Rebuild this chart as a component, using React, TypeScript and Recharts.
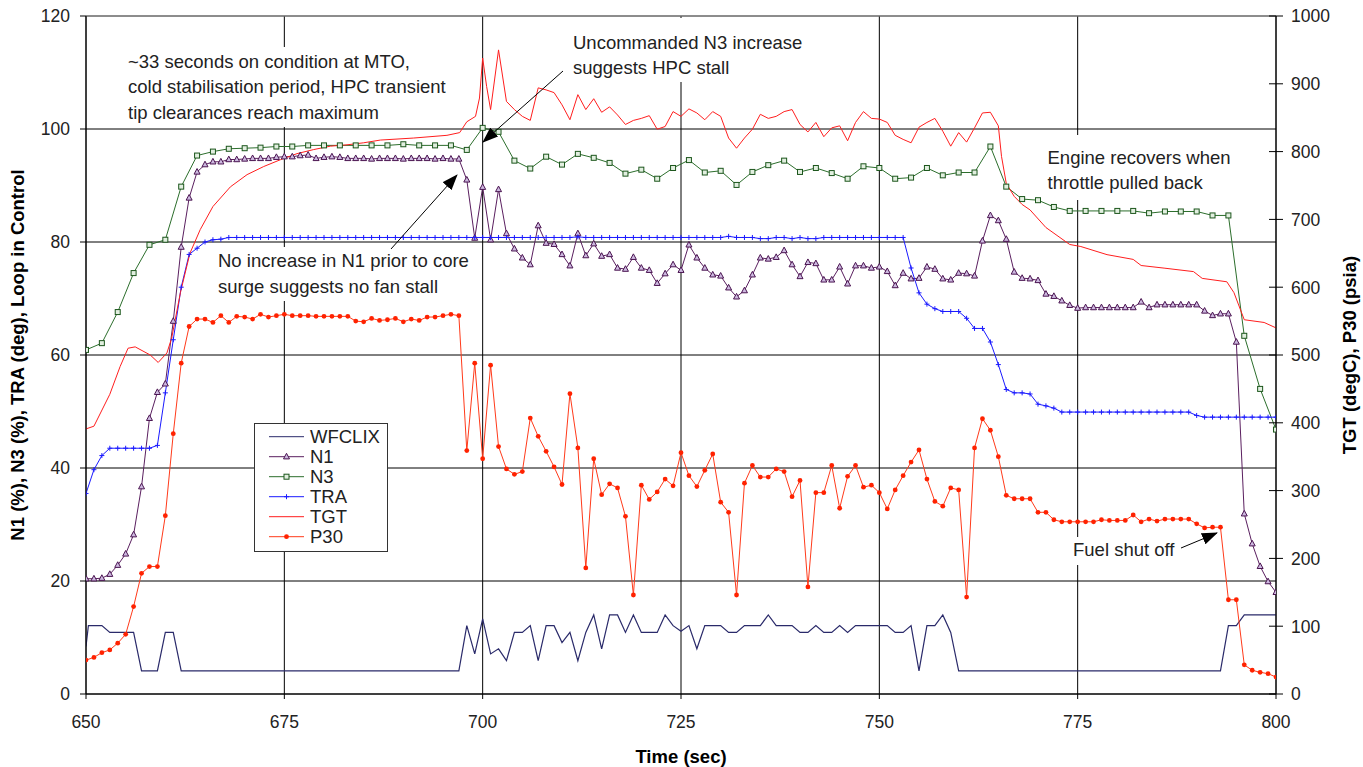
import React from 'react';
import { LineChart, Line, XAxis, YAxis, CartesianGrid, Legend, ReferenceLine } from 'recharts';

const FONT = '"Liberation Sans", Arial, Helvetica, sans-serif';

// ---- axes ----
const timeTicks = [650, 675, 700, 725, 750, 775, 800];
const leftTicks = [0, 20, 40, 60, 80, 100, 120];
const rightTicks = [0, 100, 200, 300, 400, 500, 600, 700, 800, 900, 1000];

// ---- 1-second series (650 .. 800 s) ----
const n1Values = [
  20.4, 20.4, 20.5, 21.2, 22.8, 24.8, 28.2, 36.7, 48.8, 53.4,
  54.9, 66.0, 79.1, 87.8, 92.4, 93.7, 94.2, 94.2, 94.6, 94.6,
  94.7, 94.8, 94.8, 94.8, 95.0, 95.1, 95.1, 95.3, 95.4, 94.8,
  95.0, 95.1, 95.0, 94.8, 94.8, 94.8, 94.7, 94.8, 94.8, 94.8,
  94.7, 94.8, 94.8, 94.8, 94.7, 94.8, 94.7, 94.7, 91.0, 80.7,
  89.7, 80.4, 89.3, 81.5, 78.8, 77.2, 76.0, 82.9, 79.8, 79.6,
  77.8, 75.8, 81.5, 77.6, 79.7, 77.5, 77.8, 75.4, 75.2, 77.3,
  75.4, 75.0, 72.7, 74.4, 76.0, 75.0, 79.5, 77.2, 75.4, 74.2,
  74.0, 71.9, 70.3, 71.4, 74.2, 77.2, 77.0, 77.3, 78.5, 76.0,
  73.9, 76.4, 76.2, 73.3, 73.3, 75.6, 72.6, 75.8, 75.8, 75.4,
  75.6, 74.8, 72.3, 74.5, 73.5, 73.6, 75.6, 75.2, 73.5, 73.3,
  74.5, 74.4, 74.0, 80.2, 84.7, 83.8, 80.5, 74.7, 73.6, 73.5,
  73.2, 70.8, 70.4, 69.6, 68.8, 68.3, 68.4, 68.4, 68.4, 68.4,
  68.4, 68.4, 68.4, 69.4, 68.4, 68.9, 68.9, 68.9, 68.9, 68.9,
  68.9, 67.8, 67.0, 67.3, 67.3, 62.3, 31.9, 26.6, 22.6, 19.9,
  18.0,
];

const traValues = [
  35.5, 39.7, 42.2, 43.5, 43.5, 43.5, 43.5, 43.5, 43.5, 44.0,
  53.3, 62.7, 72.0, 77.8, 78.9, 80.0, 80.4, 80.5, 80.8, 80.8,
  80.8, 80.8, 80.8, 80.8, 80.8, 80.8, 80.8, 80.8, 80.8, 80.8,
  80.8, 80.8, 80.8, 80.8, 80.8, 80.8, 80.8, 80.8, 80.8, 80.8,
  80.8, 80.8, 80.8, 80.8, 80.8, 80.8, 80.8, 80.8, 80.8, 80.8,
  80.8, 80.8, 80.8, 80.8, 80.8, 80.8, 80.8, 80.8, 80.8, 80.8,
  80.8, 80.8, 80.9, 80.8, 80.8, 80.8, 80.8, 80.8, 80.8, 80.8,
  80.8, 80.8, 80.8, 80.8, 80.8, 80.8, 80.8, 80.8, 80.8, 80.8,
  80.8, 81.0, 80.8, 80.8, 80.8, 80.6, 80.6, 80.8, 80.8, 80.6,
  80.8, 80.6, 80.6, 80.8, 80.8, 80.8, 80.8, 80.8, 80.8, 80.8,
  80.8, 80.8, 80.8, 80.8, 75.4, 71.0, 69.0, 68.2, 67.7, 67.7,
  67.7, 66.5, 64.7, 64.7, 62.3, 58.3, 53.9, 53.3, 53.3, 53.1,
  51.3, 51.0, 50.6, 49.9, 49.9, 49.9, 49.9, 49.9, 49.9, 49.9,
  49.9, 49.9, 49.9, 49.9, 49.9, 49.9, 49.9, 49.9, 49.9, 49.9,
  49.3, 49.0, 49.0, 49.0, 49.0, 49.0, 49.0, 49.0, 49.0, 49.0,
  49.0,
];

// P30 in psia (right axis)
const p30Values = [
  50, 54, 61, 65, 75, 88, 129, 178, 188, 188,
  263, 384, 488, 542, 553, 553, 548, 558, 548, 557,
  556, 553, 560, 556, 558, 560, 558, 558, 558, 557,
  557, 557, 557, 557, 550, 549, 554, 551, 552, 554,
  549, 553, 551, 556, 556, 558, 560, 558, 359, 488,
  347, 485, 365, 332, 324, 328, 407, 380, 358, 335,
  309, 443, 363, 186, 347, 294, 310, 304, 262, 146,
  308, 287, 298, 317, 307, 356, 322, 306, 330, 354,
  283, 268, 146, 311, 337, 320, 320, 332, 328, 291,
  315, 158, 297, 297, 337, 274, 321, 337, 305, 308,
  297, 273, 301, 322, 342, 360, 317, 284, 277, 304,
  301, 143, 363, 406, 389, 350, 293, 288, 288, 288,
  268, 268, 257, 254, 254, 254, 254, 254, 257, 256,
  256, 256, 264, 254, 258, 255, 258, 258, 258, 258,
  251, 245, 246, 246, 139, 139, 43, 35, 32, 30,
  25,
];

// ---- 2-second series (650 .. 800 s) ----
const n3Values = [
  60.9, 62.1, 67.6, 74.5, 79.5, 80.4, 89.8, 95.3, 96.0, 96.5,
  96.6, 96.7, 96.9, 96.9, 97.1, 97.1, 97.1, 97.1, 97.1, 97.1,
  97.3, 97.1, 97.1, 97.1, 96.3, 100.2, 99.5, 94.4, 93.0, 95.1,
  93.7, 95.6, 94.9, 94.0, 92.1, 92.8, 91.2, 93.1, 94.5, 92.3,
  92.6, 90.1, 92.4, 93.6, 94.4, 92.4, 93.1, 92.2, 91.2, 93.4,
  93.1, 91.2, 91.4, 93.1, 91.8, 92.3, 92.3, 96.9, 89.8, 87.6,
  87.4, 86.2, 85.5, 85.5, 85.5, 85.5, 85.5, 85.1, 85.4, 85.4,
  85.4, 84.7, 84.7, 63.4, 54.0, 46.8,
];

// ---- irregular samples: [time (s), value] ----
const tgtPoints: [number, number][] = [
  [650, 391], [651, 395], [653, 442], [654.3, 483], [655.3, 510], [656.2, 512], [658.1, 500], [659.1, 489],
  [660.2, 503], [660.8, 525], [661.9, 592], [663.1, 650], [664.4, 685], [666, 719], [668.2, 748], [670.3, 766],
  [672.4, 778], [674.5, 788], [676.6, 797], [678.7, 803], [680.8, 808], [682.9, 810], [685, 813], [687.1, 817],
  [691.3, 820], [695.5, 824], [697.1, 828], [698, 844], [699.1, 852], [699.6, 879], [700, 938], [700.5, 896],
  [701, 862], [702, 950], [703, 874], [704, 862], [705, 852], [706, 846], [707, 894], [708, 891],
  [709, 887], [710, 869], [711, 847], [712, 884], [713, 862], [714, 878], [715, 858], [716, 866],
  [717, 854], [718, 840], [719, 846], [720, 849], [721, 853], [722, 833], [723, 837], [724, 859],
  [725, 852], [726, 863], [727, 857], [728, 847], [729, 859], [730, 852], [731, 820], [732, 805],
  [733, 820], [734, 833], [735, 855], [736, 849], [737, 852], [738, 859], [739, 862], [740, 840],
  [741, 829], [742, 843], [743, 822], [744, 835], [745, 838], [746, 816], [747, 843], [748, 859],
  [749, 849], [750, 848], [751, 843], [752, 824], [753, 818], [754, 813], [755, 836], [756, 843],
  [757, 849], [758, 830], [759, 808], [760, 828], [761, 814], [762, 835], [763, 857], [764, 858],
  [765, 838], [765.4, 793], [766, 753], [767, 734], [768, 722], [769, 714], [771, 688], [774, 663],
  [775.4, 660], [778.7, 648], [782, 641], [783, 632], [786, 628], [789.6, 623], [790.7, 613], [793.8, 608],
  [794.7, 592], [796, 552], [798.5, 548], [800, 540],
];

const wfclixPoints: [number, number][] = [
  [650, 8.4], [650.3, 12.1], [652, 12.1], [653, 10.9], [656, 10.9], [657, 4.1], [659, 4.1], [660, 10.9],
  [661, 10.9], [662, 4.1], [697, 4.1], [698, 12.1], [699, 7.1], [700, 13.3], [701, 7.1], [702, 8.0],
  [703, 5.9], [704, 10.9], [705, 10.9], [706, 12.1], [707, 5.9], [708, 12.1], [709, 12.1], [710, 9.1],
  [711, 10.9], [712, 5.9], [713, 10.9], [714, 14.0], [715, 8.0], [716, 14.0], [717, 14.0], [718, 10.9],
  [719, 14.0], [720, 10.9], [721, 10.9], [722, 10.9], [723, 14.0], [724, 12.1], [725, 11.1], [726, 12.1],
  [727, 8.0], [728, 12.1], [729, 12.1], [730, 12.1], [731, 10.9], [732, 10.9], [733, 12.1], [734, 12.1],
  [735, 12.1], [736, 14.0], [737, 12.1], [738, 12.1], [739, 12.1], [740, 10.9], [741, 10.9], [742, 12.1],
  [743, 10.9], [744, 10.9], [745, 12.1], [746, 10.9], [747, 12.1], [748, 12.1], [749, 12.1], [750, 12.1],
  [751, 12.1], [752, 10.9], [753, 10.9], [754, 12.1], [755, 4.1], [756, 12.1], [757, 12.1], [758, 14.0],
  [759, 10.9], [760, 4.1], [793, 4.1], [794, 12.1], [795, 12.1], [796, 14.0], [800, 14.0],
];

// ---- build series tables ----
const START = 650;
const n1Data = n1Values.map((v, i) => ({ t: START + i, v }));
const traData = traValues.map((v, i) => ({ t: START + i, v }));
const p30Data = p30Values.map((v, i) => ({ t: START + i, v }));
const n3Data = n3Values.map((v, i) => ({ t: START + 2 * i, v }));
const tgtData = tgtPoints.map(([t, v]) => ({ t, v }));
const wfclixData = wfclixPoints.map(([t, v]) => ({ t, v }));

const C = {
  wf: '#2a2a6a',
  n1: '#5a1f5f',
  n1Mark: '#4a1450',
  n1Fill: '#cdb9e0',
  n3: '#2c6e2c',
  n3Mark: '#1c561c',
  n3Fill: '#e2efe0',
  tra: '#1a1aff',
  tgt: '#ff1e1e',
  p30: '#ff3a1a',
  p30Dot: '#ff2200',
};

const TriangleDot = (p: any) => {
  const { cx, cy, index } = p;
  if (cx == null || cy == null) return <g key={`t${index}`} />;
  return (
    <path key={`t${index}`} d={`M${cx},${cy - 3.4} L${cx + 3},${cy + 2.2} L${cx - 3},${cy + 2.2} Z`}
      fill={C.n1Fill} stroke={C.n1Mark} strokeWidth={1} />
  );
};
const SquareDot = (p: any) => {
  const { cx, cy, index } = p;
  if (cx == null || cy == null) return <g key={`s${index}`} />;
  return <rect key={`s${index}`} x={cx - 2.5} y={cy - 2.5} width={5} height={5} fill={C.n3Fill} stroke={C.n3Mark} strokeWidth={1} />;
};
const PlusDot = (p: any) => {
  const { cx, cy, index } = p;
  if (cx == null || cy == null) return <g key={`p${index}`} />;
  return <path key={`p${index}`} d={`M${cx - 2.5},${cy} H${cx + 2.5} M${cx},${cy - 2.5} V${cy + 2.5}`} stroke={C.tra} strokeWidth={1} />;
};
const CircleDot = (p: any) => {
  const { cx, cy, index } = p;
  if (cx == null || cy == null) return <g key={`c${index}`} />;
  return <circle key={`c${index}`} cx={cx} cy={cy} r={2.4} fill={C.p30Dot} />;
};

const legendItems = [
  { name: 'WFCLIX', color: C.wf, kind: 'none' },
  { name: 'N1', color: C.n1, kind: 'tri' },
  { name: 'N3', color: C.n3, kind: 'sq' },
  { name: 'TRA', color: C.tra, kind: 'plus' },
  { name: 'TGT', color: C.tgt, kind: 'none' },
  { name: 'P30', color: C.p30, kind: 'circle' },
];

const renderLegend = () => (
  <div style={{ width: 134, height: 129, boxSizing: 'border-box', border: '1px solid #333', background: '#fff' }}>
    <svg width={132} height={127} style={{ display: 'block' }}>
      {legendItems.map((it, i) => {
        const y = 12.7 + i * 20;
        const cx = 31.5;
        let m: React.ReactNode = null;
        if (it.kind === 'tri') m = TriangleDot({ cx, cy: y, index: 900 + i });
        if (it.kind === 'sq') m = SquareDot({ cx, cy: y, index: 900 + i });
        if (it.kind === 'plus') m = PlusDot({ cx, cy: y, index: 900 + i });
        if (it.kind === 'circle') m = CircleDot({ cx, cy: y, index: 900 + i });
        return (
          <g key={it.name}>
            <line x1={14} x2={49} y1={y} y2={y} stroke={it.color} strokeWidth={1} />
            {m}
            <text x={55} y={y} dy="0.36em" fontSize={18.5} fill="#222" fontFamily={FONT}>{it.name}</text>
          </g>
        );
      })}
    </svg>
  </div>
);

const RightTick = (p: any) => {
  const axisX = p.x - 8 - 7;
  return (
    <g>
      <line x1={axisX - 7} x2={axisX} y1={p.y} y2={p.y} stroke="#000" />
      <text x={p.x} y={p.y} dy="0.36em" textAnchor="start" fontSize={17.5} fill="#222" fontFamily={FONT}>{p.payload.value}</text>
    </g>
  );
};

const tickStyle = { fontSize: 17.5, fill: '#222', fontFamily: FONT };

const annText = { fontSize: 18.5, fill: '#222', fontFamily: FONT } as const;

export default function App() {
  return (
    <div style={{ position: 'relative', width: 1363, height: 767, background: '#fff' }}>
      <style>{'body{margin:0;background:#fff;}'}</style>
      <LineChart width={1363} height={767} margin={{ top: 16, right: 0, bottom: 0, left: 0 }}>
        <CartesianGrid yAxisId="left" stroke="#000" strokeWidth={1} />
        <XAxis type="number" dataKey="t" domain={[650, 800]} ticks={timeTicks} allowDataOverflow
          height={73} tick={tickStyle} tickSize={5} tickMargin={17}
          axisLine={{ stroke: '#000' }} tickLine={{ stroke: '#000' }} />
        <YAxis yAxisId="left" domain={[0, 120]} ticks={leftTicks} width={86} allowDataOverflow
          tick={tickStyle} tickSize={6} tickMargin={10}
          axisLine={{ stroke: '#000' }} tickLine={{ stroke: '#000' }} />
        <YAxis yAxisId="right" orientation="right" domain={[0, 1000]} ticks={rightTicks} width={87} allowDataOverflow
          tick={<RightTick />} tickSize={7} tickMargin={8}
          axisLine={{ stroke: '#000' }} tickLine={{ stroke: '#000' }} />
        <ReferenceLine yAxisId="left" y={120} stroke="#9a9a9a" />
        <Line yAxisId="left" data={wfclixData} dataKey="v" name="WFCLIX" stroke={C.wf} strokeWidth={1.2}
          dot={false} activeDot={false} isAnimationActive={false} />
        <Line yAxisId="left" data={n1Data} dataKey="v" name="N1" stroke={C.n1} strokeWidth={1}
          dot={TriangleDot} activeDot={false} isAnimationActive={false} />
        <Line yAxisId="left" data={n3Data} dataKey="v" name="N3" stroke={C.n3} strokeWidth={1}
          dot={SquareDot} activeDot={false} isAnimationActive={false} />
        <Line yAxisId="left" data={traData} dataKey="v" name="TRA" stroke={C.tra} strokeWidth={1}
          dot={PlusDot} activeDot={false} isAnimationActive={false} />
        <Line yAxisId="right" data={tgtData} dataKey="v" name="TGT" stroke={C.tgt} strokeWidth={1}
          dot={false} activeDot={false} isAnimationActive={false} />
        <Line yAxisId="right" data={p30Data} dataKey="v" name="P30" stroke={C.p30} strokeWidth={1}
          dot={CircleDot} activeDot={false} isAnimationActive={false} />
        <Legend layout="vertical" align="center" verticalAlign="middle" content={renderLegend}
          wrapperStyle={{ position: 'absolute', left: 254, top: 423, width: 134, height: 129 }} />
      </LineChart>

      <svg width={1363} height={767} style={{ position: 'absolute', left: 0, top: 0, pointerEvents: 'none' }}>
        <defs>
          <marker id="arrowHead" markerWidth={16} markerHeight={12} refX={15} refY={6} orient="auto" markerUnits="userSpaceOnUse">
            <path d="M0,0 L16,6 L0,12 Z" fill="#000" />
          </marker>
        </defs>

        {/* annotation 1 */}
        <rect x={124} y={47} width={328} height={80} fill="#fff" />
        <text x={128} y={62} dy="0.35em" {...annText}>~33 seconds on condition at MTO,</text>
        <text x={128} y={87} dy="0.35em" {...annText}>cold stabilisation period, HPC transient</text>
        <text x={128} y={112.5} dy="0.35em" {...annText}>tip clearances reach maximum</text>

        {/* annotation 2 */}
        <rect x={569} y={18} width={240} height={64} fill="#fff" />
        <text x={573} y={42.5} dy="0.35em" {...annText}>Uncommanded N3 increase</text>
        <text x={573} y={67.5} dy="0.35em" {...annText}>suggests HPC stall</text>
        <line x1={563} y1={71} x2={483} y2={142} stroke="#000" strokeWidth={1} markerEnd="url(#arrowHead)" />

        {/* annotation 3 */}
        <rect x={214} y={247} width={258} height={54} fill="#fff" />
        <text x={218} y={261} dy="0.35em" {...annText}>No increase in N1 prior to core</text>
        <text x={218} y={287} dy="0.35em" {...annText}>surge suggests no fan stall</text>
        <line x1={391} y1={249} x2={457} y2={175} stroke="#000" strokeWidth={1} markerEnd="url(#arrowHead)" />

        {/* annotation 4 */}
        <rect x={1043} y={135} width={195} height={65} fill="#fff" />
        <text x={1047.5} y={157.5} dy="0.35em" {...annText}>Engine recovers when</text>
        <text x={1047.5} y={183} dy="0.35em" {...annText}>throttle pulled back</text>

        {/* annotation 5 */}
        <rect x={1069} y={537} width={110} height={28} fill="#fff" />
        <text x={1073} y={550} dy="0.35em" {...annText}>Fuel shut off</text>
        <line x1={1181} y1={548} x2={1217} y2={533} stroke="#000" strokeWidth={1} markerEnd="url(#arrowHead)" />

        {/* axis titles */}
        <text transform="translate(18,355) rotate(-90)" textAnchor="middle" dy="0.35em"
          fontSize={18.5} fontWeight="bold" fill="#000" fontFamily={FONT}>N1 (%), N3 (%), TRA (deg), Loop in Control</text>
        <text transform="translate(1350,355) rotate(-90)" textAnchor="middle" dy="0.35em"
          fontSize={18.5} fontWeight="bold" fill="#000" fontFamily={FONT}>TGT (degC), P30 (psia)</text>
        <text x={681} y={757} textAnchor="middle" dy="0.35em"
          fontSize={18.5} fontWeight="bold" fill="#000" fontFamily={FONT}>Time (sec)</text>
      </svg>
    </div>
  );
}
